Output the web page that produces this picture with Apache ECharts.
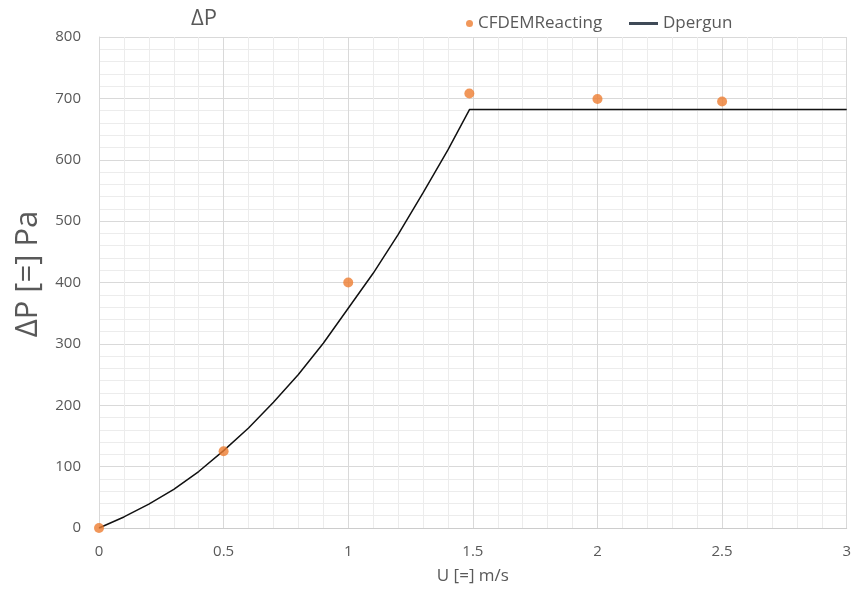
<!DOCTYPE html>
<html>
<head>
<meta charset="utf-8">
<script src="https://cdn.jsdelivr.net/npm/echarts@6/dist/echarts.min.js"></script>
<style>
html,body{margin:0;padding:0;background:#fff;}
#chart{width:854px;height:594px;}
</style>
</head>
<body>
<div id="chart"></div>
<script>
// CFDEMReacting simulation points
const cfdemU = [0, 0.5, 1, 1.486, 2, 2.5];
const cfdemDP = [0, 125, 400, 708, 699, 695];
// Dpergun (Ergun) curve
const ergunU = [0, 0.1, 0.2, 0.3, 0.4, 0.5, 0.6, 0.7, 0.8, 0.9, 1.0, 1.1, 1.2, 1.3, 1.4, 1.487, 3];
const ergunDP = [0, 18, 39, 63, 92, 126, 163, 205, 250, 301, 358, 415, 478, 546, 616, 682, 682];

const titleText = 'ΔP';
const xName = 'U [=] m/s';
const yName = 'ΔP [=] Pa';

const FONT = '"Open Sans", sans-serif';
const TXT = '#595959';

const chart = echarts.init(document.getElementById('chart'), null, {renderer: 'canvas'});

const scatterData = cfdemU.map((u, i) => [u, cfdemDP[i]]);
const lineData = ergunU.map((u, i) => [u, ergunDP[i]]);

chart.setOption({
  animation: false,
  backgroundColor: '#ffffff',
  textStyle: {fontFamily: FONT},
  title: {
    text: titleText,
    left: 186,
    top: 3,
    textStyle: {fontFamily: FONT, fontSize: 22, fontWeight: 'normal', color: TXT}
  },
  legend: [
    {
      data: [{name: 'CFDEMReacting', icon: 'circle'}],
      left: 461, top: 10,
      itemWidth: 7, itemHeight: 7,
      textStyle: {fontFamily: FONT, fontSize: 17, color: TXT}
    },
    {
      data: [{name: 'Dpergun', icon: 'rect', itemStyle: {color: '#3f4a57'}}],
      left: 624, top: 10,
      itemWidth: 29, itemHeight: 3,
      textStyle: {fontFamily: FONT, fontSize: 17, color: TXT}
    }
  ],
  grid: {left: 99, right: 6, top: 37, bottom: 66, containLabel: false},
  xAxis: {
    type: 'value',
    min: 0, max: 3, interval: 0.5,
    name: xName,
    nameLocation: 'middle',
    nameGap: 40,
    nameTextStyle: {fontFamily: FONT, fontSize: 17, color: TXT},
    axisLine: {show: true, lineStyle: {color: '#cccccc', width: 1}},
    axisTick: {show: false},
    axisLabel: {fontFamily: FONT, fontSize: 15, color: TXT, margin: 16},
    splitLine: {show: true, lineStyle: {color: '#d9d9d9', width: 1}},
    minorTick: {show: false, splitNumber: 5},
    minorSplitLine: {show: true, lineStyle: {color: '#ececec', width: 1}}
  },
  yAxis: {
    type: 'value',
    min: 0, max: 800, interval: 100,
    name: yName,
    nameLocation: 'middle',
    nameGap: 55,
    nameTextStyle: {fontFamily: FONT, fontSize: 31, color: TXT, padding: [0, 0, 0, 17]},
    axisLine: {show: true, lineStyle: {color: '#d9d9d9', width: 1}},
    axisTick: {show: false},
    axisLabel: {fontFamily: FONT, fontSize: 15, color: TXT, margin: 18},
    splitLine: {show: true, lineStyle: {color: '#d9d9d9', width: 1}},
    minorTick: {show: false, splitNumber: 5},
    minorSplitLine: {show: true, lineStyle: {color: '#ececec', width: 1}}
  },
  series: [
    {
      name: 'Dpergun',
      type: 'line',
      data: lineData,
      showSymbol: false,
      smooth: false,
      lineStyle: {color: '#111111', width: 1.5},
      itemStyle: {color: '#111111'},
      z: 2
    },
    {
      name: 'CFDEMReacting',
      type: 'scatter',
      data: scatterData,
      symbol: 'circle',
      symbolSize: 10,
      itemStyle: {color: '#ED7D31'},
      z: 3
    }
  ]
});
</script>
</body>
</html>
